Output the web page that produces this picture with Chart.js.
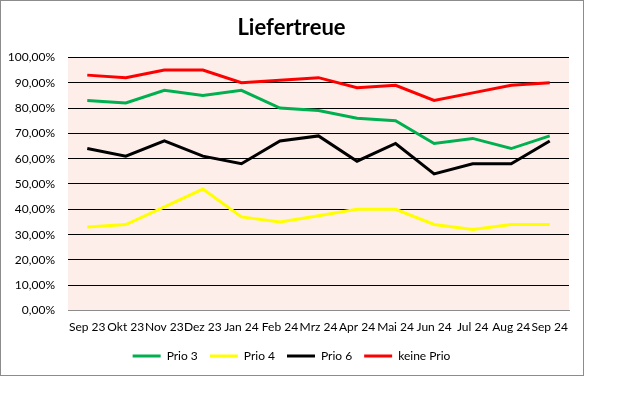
<!DOCTYPE html>
<html>
<head>
<meta charset="utf-8">
<script src="https://cdn.jsdelivr.net/npm/chart.js@4"></script>
<style>
  html, body { margin: 0; padding: 0; background: #fff; }
  #wrap { width: 626px; height: 399px; }
  canvas { display: block; }
</style>
</head>
<body>
<div id="wrap"><canvas id="lieferChart" width="584" height="377"></canvas></div>
<script>
// Monate und Liefertreue je Priorität (in %)
var monate = ['Sep 23', 'Okt 23', 'Nov 23', 'Dez 23', 'Jan 24', 'Feb 24', 'Mrz 24', 'Apr 24', 'Mai 24', 'Jun 24', 'Jul 24', 'Aug 24', 'Sep 24'];
var prio3 = [83, 82, 87, 85, 87, 80, 79, 76, 75, 66, 68, 64, 69];
var prio4 = [33, 34, 41, 48, 37, 35, 37.5, 40, 40, 34, 32, 34, 34];
var prio6 = [64, 61, 67, 61, 58, 67, 69, 59, 66, 54, 58, 58, 67];
var keinePrio = [93, 92, 95, 95, 90, 91, 92, 88, 89, 83, 86, 89, 90];

var schrift = 'Lato, "Liberation Sans", sans-serif';

// Hintergrund der Zeichenfläche und Rahmen wie in Excel
var excelLook = {
    id: 'excelLook',
    afterLayout: function(chart) {
        // Titel und Legende mittig über den ganzen Rahmen setzen
        [chart.titleBlock, chart.legend].forEach(function(box) {
            if (box) { box.left += 7; box.right += 7; }
        });
    },
    beforeDraw: function(chart) {
        var c = chart.ctx, a = chart.chartArea;
        c.save();
        c.fillStyle = '#fdeee9';
        c.fillRect(a.left, a.top, a.right - a.left, a.bottom - a.top);
        c.strokeStyle = '#8c8c8c';
        c.lineWidth = 1;
        c.strokeRect(0.5, 0.5, 583, 375);
        c.restore();
    }
};

var ctx = document.getElementById('lieferChart').getContext('2d');
var lieferChart = new Chart(ctx, {
    type: 'line',
    data: {
        labels: monate,
        datasets: [
            { label: 'Prio 3', data: prio3, borderColor: '#00b050', backgroundColor: '#00b050', borderWidth: 3 },
            { label: 'Prio 4', data: prio4, borderColor: '#ffff00', backgroundColor: '#ffff00', borderWidth: 3 },
            { label: 'Prio 6', data: prio6, borderColor: '#000000', backgroundColor: '#000000', borderWidth: 3 },
            { label: 'keine Prio', data: keinePrio, borderColor: '#ff0000', backgroundColor: '#ff0000', borderWidth: 3 }
        ]
    },
    options: {
        responsive: false,
        animation: false,
        layout: { padding: { left: 0, right: 15, top: 0, bottom: 5 } },
        elements: {
            line: { tension: 0 },
            point: { radius: 0, hoverRadius: 0 }
        },
        plugins: {
            title: {
                display: true,
                text: 'Liefertreue',
                color: '#000',
                font: { family: schrift, size: 22, weight: 'bold' },
                padding: { top: 15, bottom: 16 }
            },
            legend: {
                position: 'bottom',
                labels: {
                    usePointStyle: true,
                    pointStyle: 'line',
                    pointStyleWidth: 28,
                    color: '#000',
                    padding: 12,
                    font: { family: schrift, size: 12 }
                }
            },
            tooltip: { enabled: false }
        },
        scales: {
            x: {
                offset: true,
                afterFit: function(scale) { scale.height = scale.height - 5; },
                grid: { display: false, drawTicks: false },
                border: { display: true, color: '#8c8c8c' },
                ticks: {
                    color: '#000',
                    maxRotation: 0,
                    autoSkip: false,
                    padding: 9,
                    font: { family: schrift, size: 12 }
                }
            },
            y: {
                min: 0,
                max: 100,
                afterFit: function(scale) { scale.width = 68; },
                grid: { color: '#000', drawTicks: false },
                border: { display: false },
                ticks: {
                    stepSize: 10,
                    color: '#000',
                    padding: 13,
                    font: { family: schrift, size: 12 },
                    callback: function(v) { return v.toFixed(2).replace('.', ',') + '%'; }
                }
            }
        }
    },
    plugins: [excelLook]
});
</script>
</body>
</html>
